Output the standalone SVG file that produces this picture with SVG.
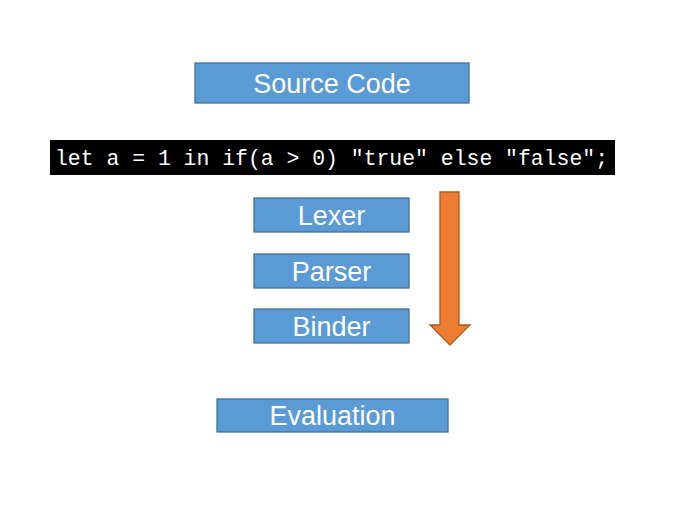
<svg xmlns="http://www.w3.org/2000/svg" width="674" height="516" viewBox="0 0 674 516">
<style>
.box{fill:#5B9BD5;stroke:#41719C;stroke-width:1.3}
.lbl{font-family:"Liberation Sans",Arial,sans-serif;font-size:27px;fill:#fff;text-anchor:middle}
.code{font-family:"Liberation Mono","DejaVu Sans Mono",monospace;font-size:22px;fill:#fff}
</style>
<rect width="674" height="516" fill="#fff"/>
<g id="source">
<rect class="box" x="195" y="63" width="274" height="40"/>
<text class="lbl" x="332" y="93">Source Code</text>
</g>
<g id="code">
<rect x="50" y="140" width="565" height="35" fill="#000"/>
<text class="code" x="55" y="165" textLength="553" lengthAdjust="spacingAndGlyphs">let a = 1 in if(a &gt; 0) "true" else "false";</text>
</g>
<g id="lexer">
<rect class="box" x="254" y="198" width="155" height="34"/>
<text class="lbl" x="331.5" y="225">Lexer</text>
</g>
<g id="parser">
<rect class="box" x="254" y="254" width="155" height="34"/>
<text class="lbl" x="331.5" y="281">Parser</text>
</g>
<g id="binder">
<rect class="box" x="254" y="309" width="155" height="34"/>
<text class="lbl" x="331.5" y="336">Binder</text>
</g>
<g id="evaluation">
<rect class="box" x="217" y="399" width="231" height="33"/>
<text class="lbl" x="332.5" y="425">Evaluation</text>
</g>
<g id="connectors">
<polygon points="440,192 459,192 459,325 470,325 450,345 430,325 440,325" fill="#ED7D31" stroke="#AE5A21" stroke-width="1.3"/>
</g>
</svg>
